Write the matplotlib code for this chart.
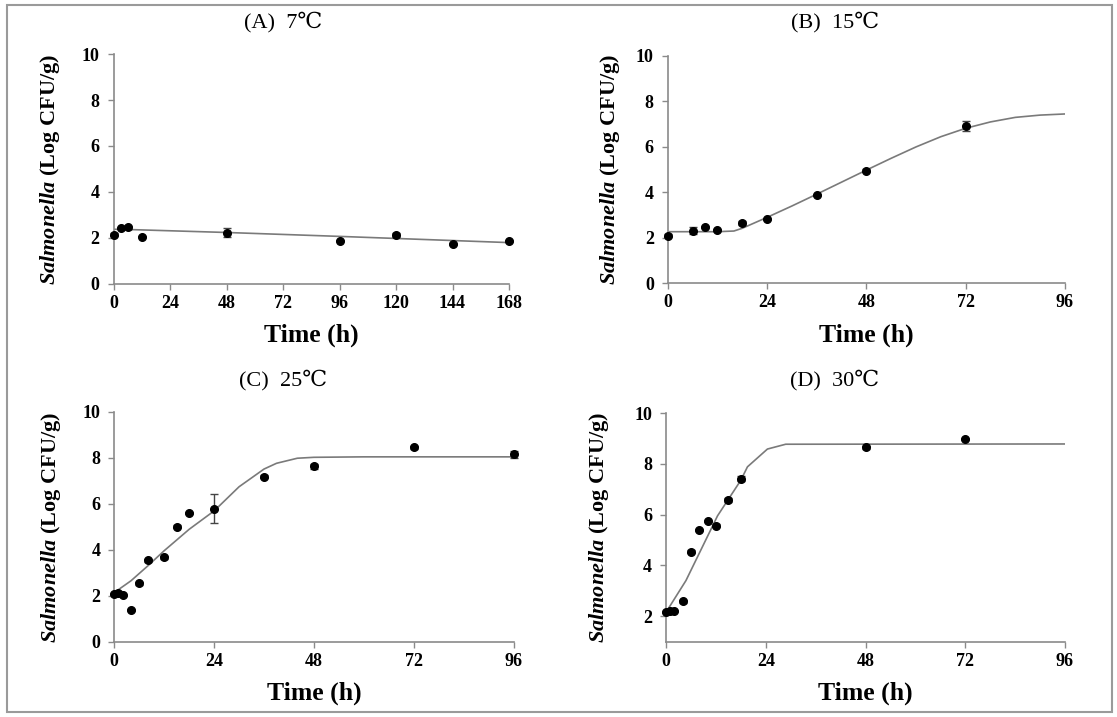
import matplotlib
matplotlib.use("Agg")
import matplotlib.pyplot as plt
from matplotlib.patches import Rectangle

plt.rcParams['font.family'] = ['Liberation Serif', 'DejaVu Serif']
plt.rcParams['font.weight'] = 'bold'
plt.rcParams['xtick.labelsize'] = 13
plt.rcParams['ytick.labelsize'] = 13
plt.rcParams['mathtext.fontset'] = 'custom'
plt.rcParams['mathtext.it'] = 'Liberation Serif:bold:italic'
plt.rcParams['mathtext.rm'] = 'Liberation Serif:bold'

# (A) 7 C
a_t = [0, 3, 6, 12, 48, 96, 120, 144, 168]
a_y = [2.15, 2.42, 2.46, 2.06, 2.23, 1.88, 2.13, 1.75, 1.88]
a_err = [0.05, 0.05, 0.05, 0.03, 0.2, 0.03, 0.08, 0.04, 0.04]
a_fit_t = [0, 6, 48, 96, 120, 144, 168]
a_fit_y = [2.38, 2.37, 2.24, 2.07, 1.98, 1.89, 1.80]

# (B) 15 C
b_t = [0, 6, 9, 12, 18, 24, 36, 48, 72]
b_y = [2.10, 2.32, 2.48, 2.35, 2.65, 2.84, 3.87, 4.96, 6.92]
b_err = [0.05, 0.15, 0.05, 0.05, 0.1, 0.05, 0.05, 0.05, 0.2]
b_fit_t = [0, 12, 16, 18, 24, 30, 36, 42, 48, 54, 60, 66, 72, 78, 84, 90, 96]
b_fit_y = [2.27, 2.27, 2.30, 2.42, 2.90, 3.40, 3.92, 4.45, 4.98, 5.50, 6.00,
           6.45, 6.82, 7.10, 7.30, 7.40, 7.45]

# (C) 25 C
c_t = [0, 1, 2, 4, 6, 8, 12, 15, 18, 24, 36, 48, 72, 96]
c_y = [2.08, 2.15, 2.05, 1.39, 2.55, 3.55, 3.68, 5.02, 5.60, 5.80, 7.19, 7.64, 8.46, 8.16]
c_err = [0.05, 0.05, 0.05, 0.05, 0.05, 0.05, 0.05, 0.06, 0.05, 0.62, 0.05, 0.12, 0.05, 0.15]
c_fit_t = [0, 4, 8, 12, 18, 24, 30, 36, 39, 44, 48, 60, 96]
c_fit_y = [2.15, 2.66, 3.30, 3.97, 4.90, 5.70, 6.75, 7.52, 7.77, 7.99, 8.03, 8.05, 8.05]

# (D) 30 C
d_t = [0, 1, 2, 4, 6, 8, 10, 12, 15, 18, 48, 72]
d_y = [2.16, 2.20, 2.20, 2.58, 4.54, 5.40, 5.75, 5.56, 6.57, 7.42, 8.65, 8.98]
d_err = [0.03, 0.03, 0.03, 0.05, 0.05, 0.05, 0.05, 0.05, 0.08, 0.08, 0.05, 0.05]
d_fit_t = [0, 4.8, 12.4, 18, 19.6, 24.4, 28.8, 96]
d_fit_y = [2.15, 3.40, 5.95, 7.35, 7.88, 8.58, 8.77, 8.78]

titles = ["(A)  7℃", "(B)  15℃", "(C)  25℃", "(D)  30℃"]

W, H = 1117, 717
fig = plt.figure(figsize=(W / 100, H / 100), dpi=100)

# axes boxes in pixels: left, right, top, bottom
boxes = [(113.5, 509, 54, 284), (667.7, 1065, 56, 283.3),
         (114.3, 513.6, 412, 642), (666, 1065, 413, 641.5)]
ylab_x = [62, 622, 63, 611]
title_pos = [(283, 22), (835, 22), (283, 380), (835, 380)]

panels = [
    (a_t, a_y, a_err, a_fit_t, a_fit_y, 168, (0, 10), range(0, 11, 2)),
    (b_t, b_y, b_err, b_fit_t, b_fit_y, 96, (0, 10), range(0, 11, 2)),
    (c_t, c_y, c_err, c_fit_t, c_fit_y, 96, (0, 10), range(0, 11, 2)),
    (d_t, d_y, d_err, d_fit_t, d_fit_y, 96, (1, 10), range(2, 11, 2)),
]

grey = '#8a8a8a'

for i, (t, y, err, ft, fy, xmax, ylim, yticks) in enumerate(panels):
    l, r, top, bot = boxes[i]
    ax = fig.add_axes([l / W, (H - bot) / H, (r - l) / W, (bot - top) / H])
    ax.plot(ft, fy, color='#7a7a7a', lw=1.2, zorder=2)
    ax.errorbar(t, y, yerr=err, fmt='o', color='black', ms=5.5,
                ecolor='#444444', elinewidth=1, capsize=3, zorder=3, clip_on=False)
    ax.set_xlim(0, xmax)
    ax.set_ylim(*ylim)
    ax.set_xticks(range(0, xmax + 1, 24))
    ax.set_yticks(list(yticks))
    for s in ['top', 'right']:
        ax.spines[s].set_visible(False)
    for s in ['left', 'bottom']:
        ax.spines[s].set_color(grey)
        ax.spines[s].set_linewidth(1.2)
    ax.tick_params(axis='both', direction='out', length=4, width=1, color=grey)
    ax.tick_params(axis='x', pad=4)
    ax.tick_params(axis='y', pad=6)
    ax.set_xlabel("Time (h)", fontweight='bold', fontsize=18.5)
    ax.xaxis.set_label_coords(0.5, -40 / (bot - top))
    ax.set_ylabel(r"$\mathit{Salmonella}$ (Log CFU/g)", fontweight='bold', fontsize=16)
    ax.yaxis.set_label_coords((ylab_x[i] - l) / (r - l), 0.5)
    tx, ty = title_pos[i]
    fig.text(tx / W, 1 - ty / H, titles[i], fontweight='normal', fontsize=16,
             ha='center', va='center')

fig.patches.append(Rectangle((7 / W, 5 / H), 1105 / W, 707 / H, transform=fig.transFigure,
                             fill=False, ec='#9a9a9a', lw=1.5))

fig.savefig("out.png", dpi=100)
